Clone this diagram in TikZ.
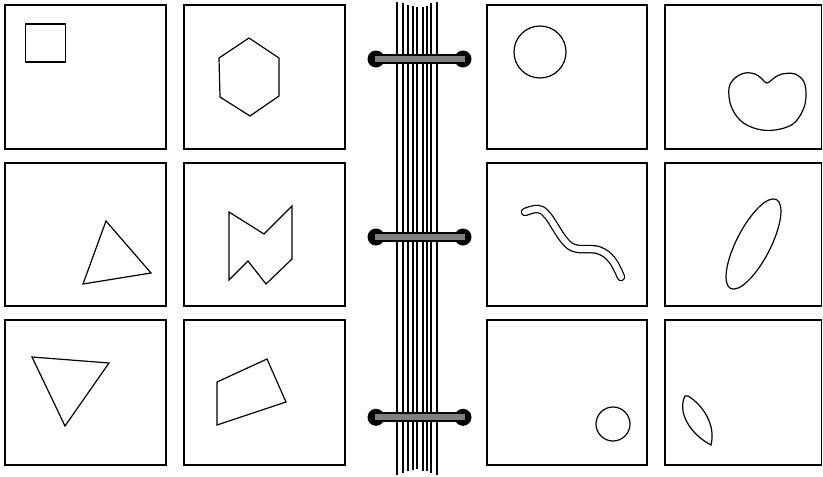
\documentclass[tikz,border=0pt]{standalone}
\begin{document}
\begin{tikzpicture}[x=1pt,y=-1pt,line join=miter,
  panel/.style={draw=black,line width=1.4pt},
  figline/.style={draw=black,line width=1.2pt},
  pageline/.style={draw=black,line width=1.8pt},
  ringend/.style={fill=black},
]
\useasboundingbox (0,0) rectangle (823,477);
% panels
\foreach \xa/\xb in {5/166,184/345,487/647,665/821.5}{
  \foreach \ya/\yb in {5/149,163/306,320/465}{
    \draw[panel] (\xa,\ya) rectangle (\xb,\yb);
  }
}
% binding pages
\foreach \x/\t/\b in {397.3/1.7/475,402.7/2.7/472.7,407.7/5/470.7,412.7/6/470,416.7/6.7/469.3,422.7/6.7/470.5,426.7/6/471,430.7/2.7/472.7,436.7/1.7/475}{
  \draw[pageline] (\x,\t) -- (\x,\b);
}
% rings
\foreach \y in {59,237,417.3}{
  \fill[ringend] (376,\y) circle (8.5);
  \fill[ringend] (463,\y) circle (8.5);
  \draw[black,line width=10pt] (376,\y) -- (463,\y);
  \draw[black!50,line width=6pt] (375,\y) -- (465,\y);
}
% row 1
\draw[figline] (25.7,24) rectangle (65.3,62);
\draw[figline] (249,38) -- (279,58) -- (279,96) -- (250,116) -- (220,97) -- (219,58) -- cycle;
\draw[figline] (540,52) circle (26);
\draw[figline] plot[smooth cycle,tension=0.6] coordinates {(767,83) (774,78) (782,74) (795,74) (804,82) (806,96) (803,110) (793,124) (775,130) (757,129) (741,121) (731,106) (729,88) (735,78) (745,73) (755,74) (761,78)};
% row 2
\draw[figline] (106,221) -- (151,273) -- (83,284) -- cycle;
\draw[figline] (229,212) -- (264,234) -- (292,206) -- (292,259) -- (266,284) -- (248,261) -- (229,280) -- cycle;
\draw[black,line width=8.5pt,line cap=round] plot[smooth,tension=0.6] coordinates {(525,212) (538,209) (548,216) (570,246) (598,250) (612,260) (621,277)};
\draw[white,line width=6pt,line cap=round] plot[smooth,tension=0.6] coordinates {(525,212) (538,209) (548,216) (570,246) (598,250) (612,260) (621,277)};
\draw[figline,rotate around={62.7:(753.5,244)}] (753.5,244) ellipse [x radius=50, y radius=17];
% row 3
\draw[figline] (32,357) -- (109,363) -- (65,426) -- cycle;
\draw[figline] (217,382) -- (267,359) -- (286,402) -- (217,425) -- cycle;
\draw[figline] (613,424) circle (17);
\draw[figline] (685,396) .. controls (677,412) and (690,434) .. (711,445) .. controls (716,425) and (703,405) .. (688,396) -- cycle;
\end{tikzpicture}
\end{document}
